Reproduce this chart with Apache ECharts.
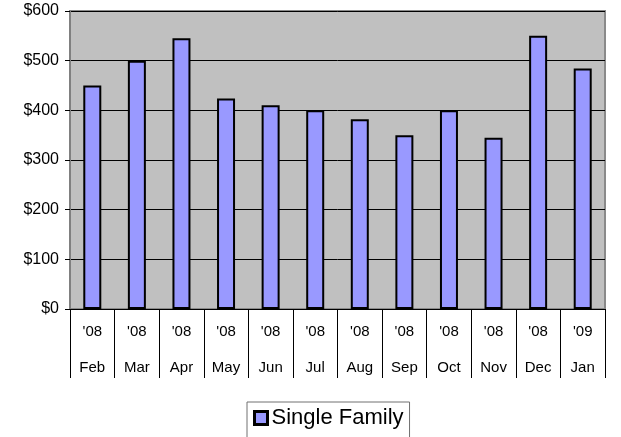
<!DOCTYPE html>
<html>
<head>
<meta charset="utf-8">
<script src="https://cdn.jsdelivr.net/npm/echarts@6/dist/echarts.min.js"></script>
<style>
  html,body{margin:0;padding:0;background:#fff;}
  #chart{width:621px;height:437px;}
</style>
</head>
<body>
<div id="chart"></div>
<script>
// 月份 / 年份
const months = ['Feb', 'Mar', 'Apr', 'May', 'Jun', 'Jul', 'Aug', 'Sep', 'Oct', 'Nov', 'Dec', 'Jan']
const years = ["'08", "'08", "'08", "'08", "'08", "'08", "'08", "'08", "'08", "'08", "'08", "'09"]
const singleFamily = [450, 500, 545, 424, 410, 400, 382, 350, 400, 345, 550, 484]
const yTicks = [0, 100, 200, 300, 400, 500, 600]

const categories = months.map((m, i) => years[i] + '\n' + m)

const myChart = echarts.init(document.getElementById('chart'))
const font = 'Liberation Sans, Arial, sans-serif'
const option = {
  animation: false,
  grid: {
    left: 70,
    right: 16,
    top: 11,
    bottom: 128,
    show: true,
    backgroundColor: '#c0c0c0',
    borderColor: '#8a8a8a',
    borderWidth: 2
  },
  legend: {
    top: 402,
    left: 247,
    icon: 'rect',
    itemWidth: 13,
    itemHeight: 13,
    itemGap: 4,
    padding: [5, 6, 24, 6],
    borderColor: '#707070',
    borderWidth: 1,
    itemStyle: { borderColor: '#000', borderWidth: 3 },
    textStyle: { fontFamily: font, fontSize: 22, color: '#000', padding: [0, 0, 0, -1] },
    data: ['Single Family']
  },
  xAxis: {
    type: 'category',
    data: categories,
    boundaryGap: true,
    axisLine: { show: true, lineStyle: { color: '#000', width: 1 } },
    axisTick: { show: true, length: 69, interval: 0, lineStyle: { color: '#000' } },
    axisLabel: {
      interval: 0,
      margin: 5,
      fontFamily: font,
      fontSize: 15,
      color: '#000',
      lineHeight: 36
    }
  },
  yAxis: {
    type: 'value',
    min: yTicks[0],
    max: yTicks[yTicks.length - 1],
    interval: 100,
    axisLine: { show: true, lineStyle: { color: '#808080', width: 2 } },
    axisTick: { show: true, length: 5, lineStyle: { color: '#000' } },
    splitLine: { show: true, lineStyle: { color: '#000', width: 1 } },
    axisLabel: {
      margin: 11,
      fontFamily: font,
      fontSize: 16,
      color: '#000',
      formatter: v => '$' + v
    }
  },
  series: [
    {
      name: 'Single Family',
      type: 'bar',
      barWidth: 18,
      data: singleFamily,
      itemStyle: { color: '#9999ff', borderColor: '#000', borderWidth: 2 }
    }
  ]
}
myChart.setOption(option)
</script>
</body>
</html>
